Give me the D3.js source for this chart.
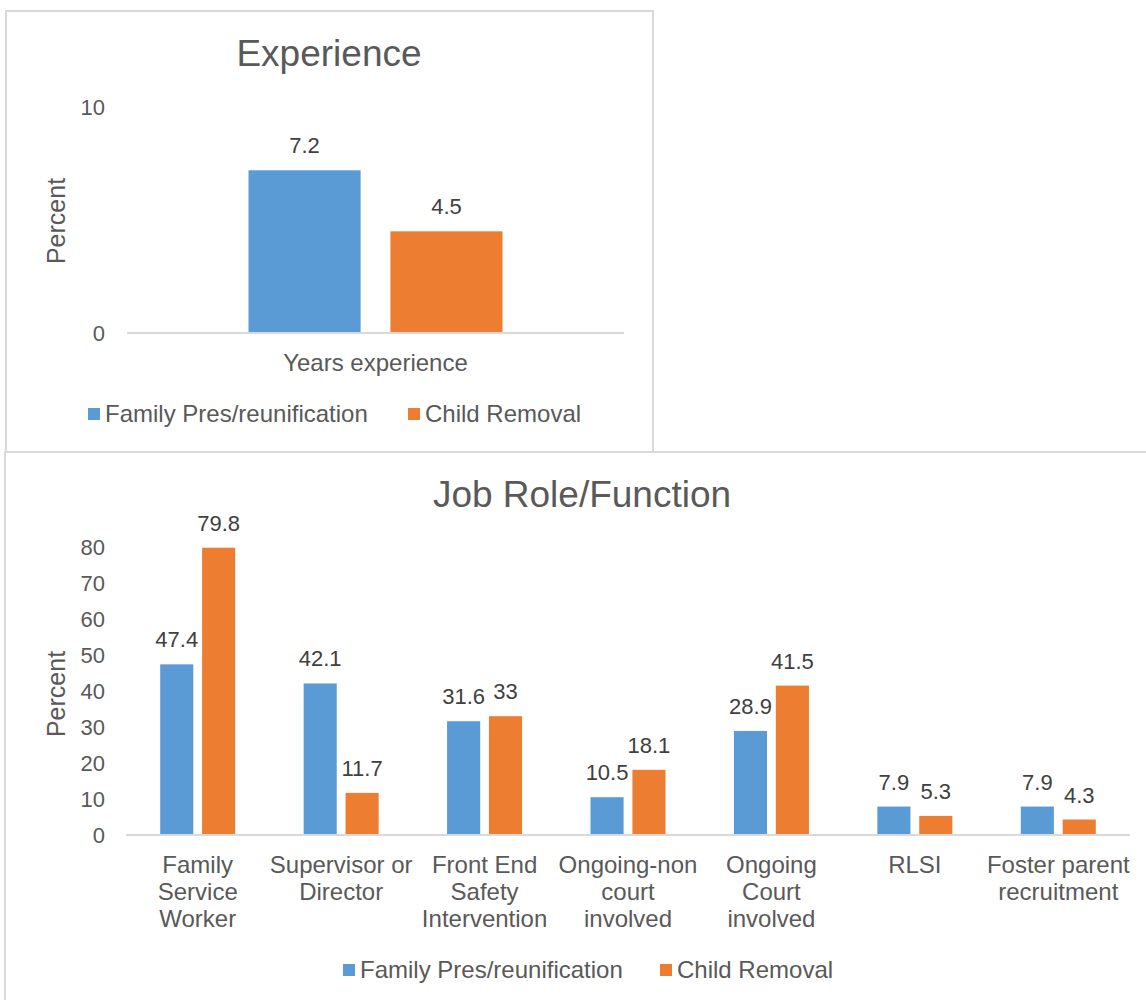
<!DOCTYPE html>
<html>
<head>
<meta charset="utf-8">
<script src="https://cdn.jsdelivr.net/npm/d3@7"></script>
<style>
  body { margin: 0; background: #fff; }
  text { font-family: "Liberation Sans", Arial, sans-serif; }
</style>
</head>
<body>
<script>
// series names shared by both charts
const seriesNames = ["Family Pres/reunification", "Child Removal"];
const seriesColors = ["#5B9BD5", "#ED7D31"];

// top chart: experience
const expCategories = ["Years experience"];
const expFamily = [7.2];
const expChild = [4.5];
const expTicks = [0, 10];

// bottom chart: job role
const jobCategories = [
  ["Family", "Service", "Worker"],
  ["Supervisor or", "Director"],
  ["Front End", "Safety", "Intervention"],
  ["Ongoing-non", "court", "involved"],
  ["Ongoing", "Court", "involved"],
  ["RLSI"],
  ["Foster parent", "recruitment"]
];
const jobFamily = [47.4, 42.1, 31.6, 10.5, 28.9, 7.9, 7.9];
const jobChild = [79.8, 11.7, 33, 18.1, 41.5, 5.3, 4.3];
const jobTicks = [0, 10, 20, 30, 40, 50, 60, 70, 80];

const width = 1146, height = 1000;
const svg = d3.select("body").append("svg")
    .attr("width", width)
    .attr("height", height);

// panel borders
svg.append("rect")
    .attr("x", 6).attr("y", 11).attr("width", 647).attr("height", 441)
    .attr("fill", "none").attr("stroke", "#d9d9d9").attr("stroke-width", 2);
svg.append("rect")
    .attr("x", 5).attr("y", 452).attr("width", 1160).attr("height", 600)
    .attr("fill", "none").attr("stroke", "#d9d9d9").attr("stroke-width", 2);

function drawChart(cfg) {
    const g = svg.append("g");
    const labels = cfg.categories.map(c => Array.isArray(c) ? c.join(" ") : c);
    const rows = labels.map((l, i) => ({
        key: l,
        lines: Array.isArray(cfg.categories[i]) ? cfg.categories[i] : [cfg.categories[i]],
        vals: [cfg.family[i], cfg.child[i]]
    }));

    const x = d3.scaleBand()
        .domain(labels)
        .range([cfg.left, cfg.right])
        .paddingInner(cfg.gap)
        .paddingOuter(cfg.gap / 2);
    const xs = d3.scaleBand()
        .domain(seriesNames)
        .range([0, x.bandwidth()])
        .paddingInner(0.21);
    const y = d3.scaleLinear()
        .domain([0, cfg.max])
        .range([cfg.bottom, cfg.top]);

    // title
    g.append("text")
        .attr("x", cfg.titleX).attr("y", cfg.titleY)
        .attr("text-anchor", "middle")
        .attr("font-size", 37)
        .attr("fill", "#595959")
        .text(cfg.title);

    // y tick labels (no axis line, no gridlines)
    g.selectAll(".ytick").data(cfg.ticks).enter().append("text")
        .attr("x", 105).attr("y", d => y(d))
        .attr("dy", "0.35em")
        .attr("text-anchor", "end")
        .attr("font-size", 22)
        .attr("fill", "#595959")
        .text(d => d);

    // y title
    g.append("text")
        .attr("transform", `translate(65,${cfg.pctY}) rotate(-90)`)
        .attr("text-anchor", "middle")
        .attr("font-size", 25)
        .attr("fill", "#595959")
        .text("Percent");

    // bars
    const grp = g.selectAll(".grp").data(rows).enter().append("g")
        .attr("transform", d => `translate(${x(d.key)},0)`);
    grp.selectAll("rect").data(d => d.vals).enter().append("rect")
        .attr("x", (d, i) => xs(seriesNames[i]))
        .attr("y", d => y(d))
        .attr("width", xs.bandwidth())
        .attr("height", d => y(0) - y(d))
        .attr("fill", (d, i) => seriesColors[i]);
    grp.selectAll(".val").data(d => d.vals).enter().append("text")
        .attr("x", (d, i) => xs(seriesNames[i]) + xs.bandwidth() / 2)
        .attr("y", d => y(d) - 17)
        .attr("text-anchor", "middle")
        .attr("font-size", 22)
        .attr("fill", "#404040")
        .text(d => d);

    // x axis line
    g.append("line")
        .attr("x1", cfg.left).attr("x2", cfg.right)
        .attr("y1", y(0)).attr("y2", y(0))
        .attr("stroke", "#d9d9d9").attr("stroke-width", 2);

    // category labels
    grp.each(function (d) {
        const t = d3.select(this).append("text")
            .attr("text-anchor", "middle")
            .attr("font-size", 24)
            .attr("fill", "#595959");
        d.lines.forEach((ln, k) => {
            t.append("tspan")
                .attr("x", x.bandwidth() / 2)
                .attr("y", y(0) + 38 + k * 27)
                .text(ln);
        });
    });

    // legend
    const leg = g.selectAll(".leg").data(seriesNames).enter().append("g")
        .attr("transform", (d, i) => `translate(${cfg.legX[i]},${cfg.legY})`);
    leg.append("rect")
        .attr("x", 0).attr("y", -14)
        .attr("width", 12).attr("height", 12)
        .attr("fill", (d, i) => seriesColors[i]);
    leg.append("text")
        .attr("x", 17).attr("y", 0)
        .attr("font-size", 24)
        .attr("fill", "#595959")
        .text(d => d);
}

drawChart({
    title: "Experience", titleX: 329, titleY: 66,
    categories: expCategories, family: expFamily, child: expChild,
    ticks: expTicks, max: 10,
    left: 127, right: 624, top: 107, bottom: 333,
    gap: 0.489, pctY: 221,
    legX: [88, 408], legY: 422
});

drawChart({
    title: "Job Role/Function", titleX: 582, titleY: 507,
    categories: jobCategories, family: jobFamily, child: jobChild,
    ticks: jobTicks, max: 80,
    left: 126, right: 1130, top: 547, bottom: 835,
    gap: 0.477, pctY: 694,
    legX: [343, 660], legY: 978
});
</script>
</body>
</html>
